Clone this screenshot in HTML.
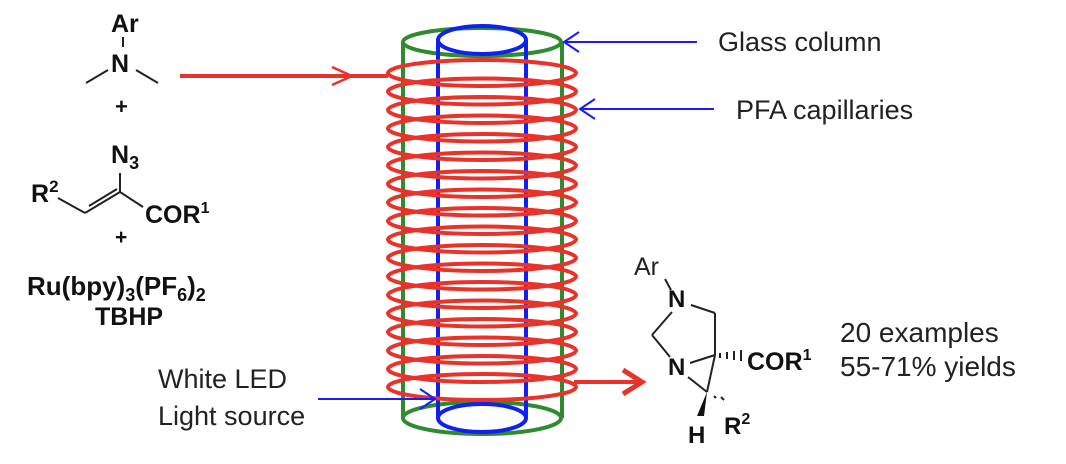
<!DOCTYPE html>
<html><head><meta charset="utf-8"><style>
html,body{margin:0;padding:0;background:#fff;}
svg{display:block;}
.b{font-family:"Liberation Sans",sans-serif;font-weight:bold;fill:#111;}
.r{font-family:"Liberation Sans",sans-serif;fill:#222;}
</style></head><body>
<svg width="1066" height="464" viewBox="0 0 1066 464" xmlns="http://www.w3.org/2000/svg">
<rect width="1066" height="464" fill="#fff"/>
<!-- left reactants -->
<g stroke="#222" stroke-width="2" fill="none">
<line x1="123" y1="37" x2="123" y2="47"/>
<line x1="108" y1="70" x2="86" y2="83"/>
<line x1="136" y1="70" x2="158" y2="83"/>
<line x1="120" y1="173" x2="120" y2="192"/>
<line x1="58" y1="198" x2="85" y2="213"/>
<line x1="85" y1="213" x2="120" y2="192"/>
<line x1="89" y1="206" x2="117" y2="189"/>
<line x1="120" y1="192" x2="143" y2="207"/>
</g>
<text class="b" x="111" y="32" font-size="25">Ar</text>
<text class="b" x="111" y="72" font-size="25">N</text>
<text class="b" x="115" y="114" font-size="22">+</text>
<text class="b" x="111" y="163" font-size="25">N<tspan font-size="18" dy="6">3</tspan></text>
<text class="b" x="31" y="202" font-size="25">R<tspan font-size="17" dy="-10">2</tspan></text>
<text class="b" x="145" y="223" font-size="25">COR<tspan font-size="16" dy="-10">1</tspan></text>
<text class="b" x="115" y="244" font-size="21">+</text>
<text class="b" x="27" y="295" font-size="26">Ru(bpy)<tspan font-size="18" dy="6">3</tspan><tspan dy="-6">(PF</tspan><tspan font-size="18" dy="6">6</tspan><tspan dy="-6">)</tspan><tspan font-size="18" dy="6">2</tspan></text>
<text class="b" x="95" y="325" font-size="25">TBHP</text>
<text class="r" x="158" y="388" font-size="27">White LED</text>
<text class="r" x="158" y="425" font-size="27">Light source</text>
<!-- reactor -->
<g fill="none" stroke-width="4">
<ellipse cx="482" cy="42" rx="79" ry="14" stroke="#2e8b2e"/>
<line x1="403" y1="42" x2="403" y2="418" stroke="#2e8b2e"/>
<line x1="562" y1="42" x2="562" y2="418" stroke="#2e8b2e"/>
<ellipse cx="482" cy="418" rx="79" ry="16" stroke="#2e8b2e"/>
<ellipse cx="482" cy="40" rx="44" ry="14" stroke="#1020ee"/>
<line x1="438" y1="40" x2="438" y2="418" stroke="#1020ee"/>
<line x1="526" y1="40" x2="526" y2="418" stroke="#1020ee"/>
<ellipse cx="482" cy="418" rx="44" ry="14" stroke="#1020ee"/>
</g>
<g fill="none" stroke="#e8322a" stroke-width="4">
<ellipse cx="482" cy="73" rx="94" ry="13"/>
<ellipse cx="482" cy="91.5" rx="94" ry="13"/>
<ellipse cx="482" cy="110" rx="94" ry="13"/>
<ellipse cx="482" cy="128.5" rx="94" ry="13"/>
<ellipse cx="482" cy="147" rx="94" ry="13"/>
<ellipse cx="482" cy="165.5" rx="94" ry="13"/>
<ellipse cx="482" cy="184" rx="94" ry="13"/>
<ellipse cx="482" cy="202.5" rx="94" ry="13"/>
<ellipse cx="482" cy="221" rx="94" ry="13"/>
<ellipse cx="482" cy="239.5" rx="94" ry="13"/>
<ellipse cx="482" cy="258" rx="94" ry="13"/>
<ellipse cx="482" cy="276.5" rx="94" ry="13"/>
<ellipse cx="482" cy="295" rx="94" ry="13"/>
<ellipse cx="482" cy="313.5" rx="94" ry="13"/>
<ellipse cx="482" cy="332" rx="94" ry="13"/>
<ellipse cx="482" cy="350.5" rx="94" ry="13"/>
<ellipse cx="482" cy="369" rx="94" ry="13"/>
<ellipse cx="482" cy="387" rx="94" ry="13"/>
<line x1="180" y1="76" x2="388" y2="76"/>
<polyline points="332,67 352,76 332,85" stroke-width="2.5"/>
<line x1="574" y1="382" x2="640" y2="382"/>
<polyline points="623,370 642,382 623,394" stroke-width="5"/>
</g>
<g fill="none" stroke="#1a1aff" stroke-width="2">
<line x1="564" y1="42" x2="697" y2="42"/>
<polyline points="579,32 564,42 579,52"/>
<line x1="580" y1="109" x2="714" y2="109"/>
<polyline points="595,99 580,109 595,119"/>
<line x1="318" y1="399" x2="435" y2="399"/>
<polyline points="420,389 435,399 420,409"/>
</g>
<text class="r" x="718" y="51" font-size="27">Glass column</text>
<text class="r" x="736" y="119" font-size="27">PFA capillaries</text>
<!-- product -->
<g stroke="#222" stroke-width="2" fill="none">
<line x1="665" y1="279" x2="671" y2="290"/>
<line x1="691" y1="305" x2="715" y2="313"/>
<line x1="715" y1="313" x2="715" y2="355"/>
<line x1="672" y1="312" x2="652" y2="335"/>
<line x1="652" y1="335" x2="670" y2="357"/>
<line x1="690" y1="363" x2="715" y2="355"/>
<line x1="688" y1="377" x2="707" y2="392"/>
<line x1="715" y1="355" x2="707" y2="392"/>
<line x1="720" y1="353" x2="720" y2="358"/>
<line x1="727" y1="352" x2="727" y2="359"/>
<line x1="734" y1="351" x2="734" y2="360"/>
<line x1="741" y1="350" x2="741" y2="361"/>
<line x1="714" y1="396" x2="716" y2="398"/>
<line x1="721" y1="397" x2="724" y2="400"/>
</g>
<polygon points="707,392 697,416 704,416" fill="#111"/>
<text class="r" x="634" y="275" font-size="25">Ar</text>
<text class="b" x="668" y="307" font-size="24">N</text>
<text class="b" x="668" y="375" font-size="24">N</text>
<text class="b" x="747" y="370" font-size="25">COR<tspan font-size="16" dy="-10">1</tspan></text>
<text class="b" x="688" y="443" font-size="24">H</text>
<text class="b" x="724" y="434" font-size="24">R<tspan font-size="16" dy="-10">2</tspan></text>
<text class="r" x="840" y="342" font-size="28">20 examples</text>
<text class="r" x="840" y="376" font-size="28">55-71% yields</text>
</svg>
</body></html>
